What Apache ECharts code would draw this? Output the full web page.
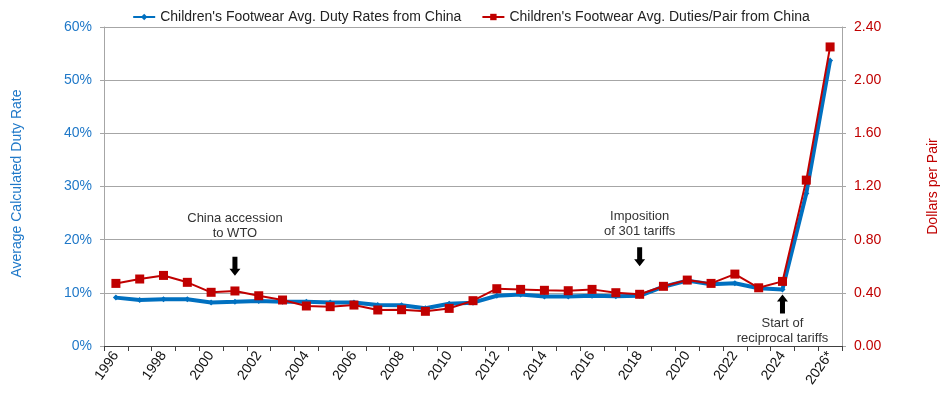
<!DOCTYPE html>
<html>
<head>
<meta charset="utf-8">
<script src="https://cdn.jsdelivr.net/npm/echarts@6/dist/echarts.min.js"></script>
<style>
  html, body { margin: 0; padding: 0; background: #fff; }
  #chart { width: 942px; height: 394px; }
</style>
</head>
<body>
<div id="chart"></div>
<script>
// Years shown on the category axis
const years = ['1996','1997','1998','1999','2000','2001','2002','2003','2004','2005',
  '2006','2007','2008','2009','2010','2011','2012','2013','2014','2015',
  '2016','2017','2018','2019','2020','2021','2022','2023','2024','2025','2026*'];

// Average calculated duty rate, percent
const dutyRate = [9.1, 8.65, 8.8, 8.8, 8.2, 8.3, 8.45, 8.3, 8.3, 8.2,
  8.2, 7.7, 7.65, 7.1, 7.95, 8.15, 9.45, 9.7, 9.3, 9.3,
  9.45, 9.35, 9.45, 11.15, 12.3, 11.6, 11.8, 10.85, 10.65, 28.7, 53.7];

// Average duties paid per pair, dollars
const dutyPerPair = [0.471, 0.504, 0.531, 0.479, 0.404, 0.414, 0.378, 0.346, 0.301, 0.296,
  0.308, 0.271, 0.273, 0.261, 0.283, 0.341, 0.431, 0.426, 0.419, 0.416,
  0.426, 0.401, 0.389, 0.449, 0.496, 0.471, 0.541, 0.438, 0.486, 1.248, 2.25];

// Event notes: year, note text, arrow direction
const events = [
  { year: '2001', text: 'China accession\nto WTO', dir: 'down', arrowAt: 15.0, textAt: 22.6 },
  { year: '2018', text: 'Imposition\nof 301 tariffs', dir: 'down', arrowAt: 16.8, textAt: 23.0 },
  { year: '2024', text: 'Start of\nreciprocal tariffs', dir: 'up', arrowAt: 7.9, textAt: 2.9 }
];

const BLUE = '#0070C0';
const BLUE_TXT = '#1F78C8';
const RED = '#C00000';
const FONT = '"Liberation Sans", Arial, sans-serif';

const ARROW_DOWN = 'path://M3,0 L8,0 L8,12 L11,12 L5.5,19 L0,12 L3,12 Z';
const ARROW_UP = 'path://M5.5,0 L11,7 L8,7 L8,19 L3,19 L3,7 L0,7 Z';

const notePoints = [];
events.forEach(e => {
  notePoints.push({
    coord: [e.year, e.arrowAt],
    symbol: e.dir === 'down' ? ARROW_DOWN : ARROW_UP,
    symbolSize: [11, 19],
    itemStyle: { color: '#000' },
    label: { show: false }
  });
  notePoints.push({
    coord: [e.year, e.textAt],
    symbol: 'rect',
    symbolSize: 1,
    itemStyle: { color: 'rgba(0,0,0,0)' },
    label: {
      show: true, position: 'inside', formatter: e.text,
      color: '#333', fontSize: 13, lineHeight: 15, fontFamily: FONT, align: 'center'
    }
  });
});

const chart = echarts.init(document.getElementById('chart'), null, { renderer: 'canvas' });
chart.setOption({
  animation: false,
  textStyle: { fontFamily: FONT },
  legend: {
    top: 5,
    left: 'center',
    itemWidth: 22,
    itemHeight: 8,
    itemGap: 20,
    textStyle: { fontSize: 14, color: '#222', fontFamily: FONT },
    data: ["Children's Footwear Avg. Duty Rates from China", "Children's Footwear Avg. Duties/Pair from China"]
  },
  grid: { left: 104, right: 100, top: 27, bottom: 48, containLabel: false, outerBoundsMode: 'none' },
  xAxis: {
    type: 'category',
    data: years,
    boundaryGap: true,
    axisLine: { lineStyle: { color: '#404040', width: 1 } },
    axisTick: { show: true, interval: 0, length: 5, alignWithLabel: false, lineStyle: { color: '#404040' } },
    axisLabel: { interval: 1, rotate: 55, fontSize: 14, color: '#111', margin: 7, fontFamily: FONT }
  },
  yAxis: [
    {
      type: 'value', min: 0, max: 60, interval: 10, position: 'left',
      name: 'Average Calculated Duty Rate', nameLocation: 'middle', nameGap: 80, nameRotate: 90,
      nameTextStyle: { color: BLUE_TXT, fontSize: 14, fontFamily: FONT, padding: [0, 0, 0, 6] },
      axisLine: { show: true, lineStyle: { color: '#A6A6A6' } },
      axisTick: { show: true, length: 4, lineStyle: { color: '#A6A6A6' } },
      axisLabel: { formatter: '{value}%', color: BLUE_TXT, fontSize: 14, margin: 12, fontFamily: FONT },
      splitLine: { show: true, lineStyle: { color: '#A6A6A6', width: 1 } }
    },
    {
      type: 'value', min: 0, max: 2.4, interval: 0.4, position: 'right',
      name: 'Dollars per Pair', nameLocation: 'middle', nameGap: 84, nameRotate: 90,
      nameTextStyle: { color: RED, fontSize: 14, fontFamily: FONT },
      axisLine: { show: true, lineStyle: { color: '#A6A6A6' } },
      axisTick: { show: true, length: 4, lineStyle: { color: '#A6A6A6' } },
      axisLabel: { formatter: v => v.toFixed(2), color: RED, fontSize: 14, margin: 12, fontFamily: FONT },
      splitLine: { show: false }
    }
  ],
  series: [
    {
      name: "Children's Footwear Avg. Duty Rates from China",
      type: 'line',
      yAxisIndex: 0,
      data: dutyRate,
      symbol: 'diamond',
      symbolSize: 6,
      showAllSymbol: true,
      lineStyle: { color: BLUE, width: 4 },
      itemStyle: { color: BLUE },
      z: 2,
      markPoint: { silent: true, data: notePoints }
    },
    {
      name: "Children's Footwear Avg. Duties/Pair from China",
      type: 'line',
      yAxisIndex: 1,
      data: dutyPerPair,
      symbol: 'rect',
      symbolSize: 9,
      showAllSymbol: true,
      lineStyle: { color: RED, width: 2 },
      itemStyle: { color: RED },
      z: 3
    }
  ]
});
</script>
</body>
</html>
